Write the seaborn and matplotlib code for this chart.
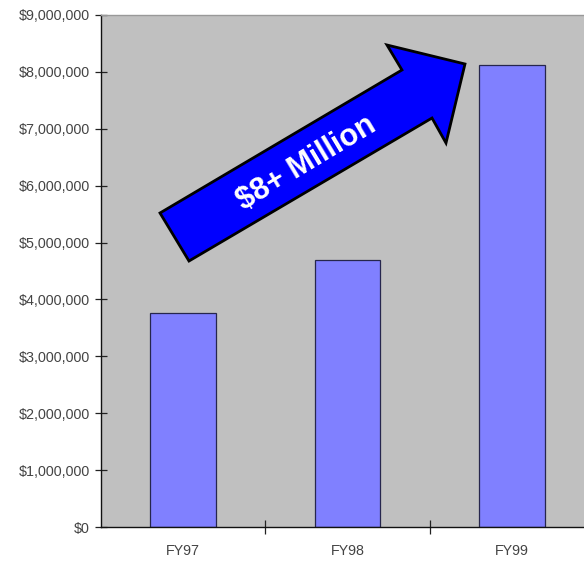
import matplotlib
matplotlib.use("Agg")
import matplotlib.pyplot as plt
import seaborn as sns
import pandas as pd
from matplotlib.patches import Polygon
from matplotlib.ticker import FuncFormatter, FixedLocator

# ===== 数据 =====
years = ["FY97", "FY98", "FY99"]
revenue = [3760000, 4690000, 8120000]
y_ticks = list(range(0, 9000001, 1000000))
arrow_text = "$8+ Million"

df = pd.DataFrame({"year": years, "revenue": revenue})

sns.set_style("white")
plt.rcParams["font.family"] = ["Liberation Sans", "DejaVu Sans"]

fig = plt.figure(figsize=(5.84, 5.63), dpi=100)
# 绘图区右边缘超出画布（原图被裁切）
ax = fig.add_axes([101 / 584, 36 / 563, 493 / 584, 512 / 563])
ax.set_facecolor("#C0C0C0")

sns.barplot(data=df, x="year", y="revenue", ax=ax, color="#8080FF",
            saturation=1, width=0.4, edgecolor="#26264d", linewidth=0.9)

ax.set_xlim(-0.5, 2.5)
ax.set_ylim(0, 9000000)
ax.set_yticks(y_ticks)
ax.yaxis.set_major_formatter(FuncFormatter(lambda v, p: f"${int(v):,}"))
ax.set_xlabel("")
ax.set_ylabel("")

ax.tick_params(axis="y", direction="inout", length=8, width=0.9, color="#222222",
               labelsize=10.3, labelcolor="#444444", pad=4, left=True)
ax.tick_params(axis="x", which="major", length=0, labelsize=10.3,
               labelcolor="#444444", pad=12)
ax.xaxis.set_minor_locator(FixedLocator([0.5, 1.5]))
ax.tick_params(axis="x", which="minor", direction="inout", length=10,
               width=0.9, color="#222222", bottom=True)

for side in ["left", "bottom"]:
    ax.spines[side].set_color("#111111")
    ax.spines[side].set_linewidth(1.0)
ax.spines["top"].set_color("#999999")
ax.spines["top"].set_linewidth(1.0)
ax.spines["right"].set_visible(False)

# 蓝色箭头（坐标轴比例坐标）
arrow_pts = [(0.1197, 0.6133), (0.6105, 0.8926), (0.5801, 0.9414),
             (0.7383, 0.9043), (0.6998, 0.7500), (0.6714, 0.7988),
             (0.1785, 0.5195)]
ax.add_patch(Polygon(arrow_pts, closed=True, transform=ax.transAxes,
                     facecolor="#0000FF", edgecolor="black", linewidth=2,
                     joinstyle="miter", zorder=5, clip_on=False))
ax.text(0.417, 0.711, arrow_text, transform=ax.transAxes, rotation=31,
        rotation_mode="anchor", ha="center", va="center", color="white",
        fontsize=22, fontweight="bold", zorder=6,
        family=["Liberation Sans", "DejaVu Sans"])

fig.savefig("out.png", dpi=100)
